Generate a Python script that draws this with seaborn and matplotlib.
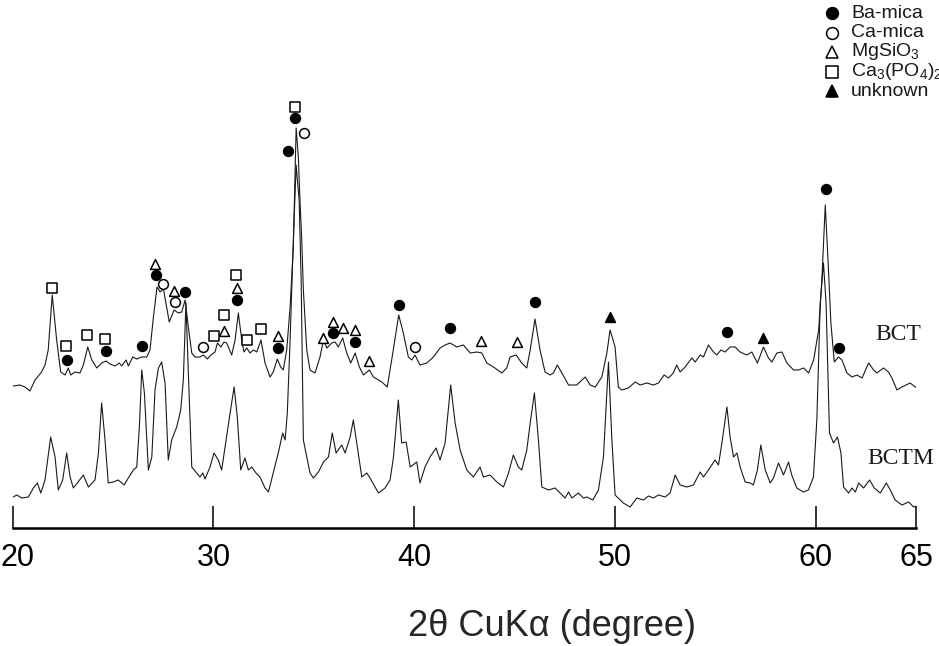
import matplotlib
matplotlib.use('Agg')
import matplotlib.pyplot as plt
from matplotlib.lines import Line2D
from matplotlib.transforms import ScaledTranslation
import seaborn as sns

# XRD patterns: 2-theta (deg) and intensity (arb. units)
bct_2theta = [20.03, 20.36, 20.61, 20.86, 21.11, 21.44, 21.61, 21.77, 21.97, 22.19,
              22.39, 22.61, 22.77, 22.89, 23.10, 23.35, 23.52, 23.74, 23.94, 24.19,
              24.43, 24.65, 24.85, 25.10, 25.31, 25.43, 25.65, 25.76, 25.98, 26.18,
              26.43, 26.68, 26.84, 27.01, 27.19, 27.34, 27.51, 27.80, 28.04, 28.25,
              28.42, 28.59, 28.75, 28.92, 29.08, 29.33, 29.50, 29.70, 29.87, 30.08,
              30.20, 30.37, 30.53, 30.66, 30.91, 31.08, 31.24, 31.41, 31.52, 31.66,
              31.82, 31.99, 32.16, 32.37, 32.57, 32.82, 32.98, 33.18, 33.35, 33.48,
              33.65, 33.82, 33.98, 34.12, 34.23, 34.31, 34.40, 34.48, 34.65, 34.81,
              35.06, 35.31, 35.48, 35.65, 35.89, 36.06, 36.22, 36.44, 36.64, 36.84,
              37.06, 37.27, 37.47, 37.77, 37.97, 38.39, 38.66, 38.96, 39.23, 39.46,
              39.71, 39.88, 40.04, 40.29, 40.63, 40.96, 41.29, 41.54, 41.79, 42.12,
              42.45, 42.79, 43.12, 43.37, 43.62, 43.95, 44.37, 44.61, 44.78, 45.08,
              45.36, 45.61, 45.78, 46.02, 46.27, 46.52, 46.77, 46.94, 47.13, 47.36,
              47.69, 48.10, 48.52, 48.77, 49.02, 49.35, 49.60, 49.76, 50.01, 50.17,
              50.34, 50.67, 51.01, 51.26, 51.59, 51.92, 52.17, 52.45, 52.67, 52.91,
              53.08, 53.25, 53.50, 53.83, 54.00, 54.25, 54.41, 54.66, 54.91, 55.08,
              55.28, 55.49, 55.74, 55.99, 56.24, 56.57, 56.82, 57.10, 57.40, 57.65,
              57.82, 58.07, 58.32, 58.57, 58.90, 59.15, 59.40, 59.65, 59.90, 60.15,
              60.31, 60.48, 60.64, 60.76, 60.93, 61.14, 61.31, 61.56, 61.81, 62.06,
              62.31, 62.64, 62.89, 63.05, 63.38, 63.63, 63.80, 64.05, 64.30, 64.71,
              64.96, 65.21]
bct_counts = [32, 33, 31, 27, 38, 46, 53, 68, 123, 78,
              46, 43, 50, 43, 46, 45, 53, 71, 58, 50,
              55, 57, 54, 52, 55, 52, 58, 52, 61, 59,
              61, 61, 68, 101, 131, 126, 129, 96, 108, 105,
              106, 118, 91, 65, 61, 61, 63, 59, 63, 66,
              75, 71, 76, 75, 63, 78, 105, 78, 66, 70,
              65, 68, 66, 78, 55, 41, 46, 59, 51, 48,
              68, 111, 171, 290, 261, 218, 178, 128, 68, 48,
              45, 61, 78, 70, 75, 76, 71, 80, 65, 55,
              65, 51, 43, 48, 41, 36, 31, 68, 103, 85,
              61, 58, 63, 53, 55, 61, 70, 73, 75, 71,
              73, 65, 66, 65, 55, 51, 45, 50, 61, 63,
              55, 50, 68, 99, 68, 46, 43, 45, 53, 45,
              33, 33, 41, 33, 31, 41, 65, 88, 71, 31,
              28, 30, 36, 33, 35, 33, 35, 43, 40, 45,
              53, 46, 51, 60, 56, 63, 61, 73, 66, 63,
              68, 66, 71, 71, 66, 63, 66, 55, 71, 60,
              56, 65, 66, 55, 48, 48, 50, 45, 58, 88,
              138, 213, 148, 95, 56, 61, 58, 45, 41, 43,
              40, 55, 48, 45, 50, 46, 40, 28, 31, 35,
              31, 30]

bctm_2theta = [20.03, 20.20, 20.45, 20.78, 21.03, 21.23, 21.40, 21.61, 21.89, 22.11,
               22.27, 22.49, 22.69, 22.86, 23.02, 23.22, 23.52, 23.77, 24.10, 24.27,
               24.43, 24.60, 24.76, 25.01, 25.26, 25.55, 25.76, 26.01, 26.18, 26.31,
               26.43, 26.56, 26.76, 26.93, 27.09, 27.26, 27.42, 27.59, 27.75, 27.92,
               28.17, 28.37, 28.50, 28.63, 28.75, 28.92, 29.17, 29.33, 29.47, 29.58,
               29.83, 30.03, 30.24, 30.41, 30.58, 30.83, 31.03, 31.19, 31.36, 31.57,
               31.74, 31.91, 32.12, 32.32, 32.57, 32.74, 32.98, 33.23, 33.45, 33.57,
               33.68, 33.82, 33.98, 34.12, 34.27, 34.37, 34.48, 34.81, 34.98, 35.23,
               35.48, 35.73, 35.92, 36.11, 36.39, 36.56, 36.81, 36.97, 37.14, 37.39,
               37.64, 37.80, 38.22, 38.55, 38.80, 38.97, 39.21, 39.38, 39.60, 39.80,
               40.13, 40.29, 40.54, 40.79, 41.09, 41.29, 41.54, 41.82, 42.04, 42.29,
               42.62, 42.95, 43.28, 43.45, 43.78, 44.12, 44.45, 44.70, 44.94, 45.19,
               45.36, 45.61, 45.78, 45.99, 46.19, 46.36, 46.69, 47.02, 47.27, 47.52,
               47.69, 47.86, 48.18, 48.43, 48.60, 48.90, 49.18, 49.43, 49.68, 49.85,
               50.01, 50.42, 50.76, 51.09, 51.42, 51.67, 51.92, 52.17, 52.50, 52.75,
               53.00, 53.25, 53.58, 53.91, 54.25, 54.41, 54.66, 54.99, 55.16, 55.33,
               55.58, 55.74, 55.91, 56.08, 56.24, 56.49, 56.74, 56.90, 57.10, 57.27,
               57.49, 57.74, 57.90, 58.15, 58.40, 58.65, 58.81, 59.06, 59.39, 59.64,
               59.89, 60.06, 60.23, 60.39, 60.52, 60.69, 60.89, 61.09, 61.26, 61.39,
               61.64, 61.81, 61.98, 62.14, 62.39, 62.69, 62.92, 63.22, 63.52, 63.72,
               63.96, 64.30, 64.63, 64.88, 65.13]
bctm_counts = [31, 33, 30, 31, 40, 45, 35, 48, 91, 71,
               38, 48, 75, 51, 40, 45, 53, 41, 48, 75,
               125, 88, 45, 46, 48, 43, 50, 58, 61, 101,
               158, 135, 58, 71, 138, 160, 166, 145, 68, 88,
               101, 118, 148, 225, 155, 61, 55, 51, 55, 49,
               61, 75, 68, 58, 81, 115, 141, 111, 58, 70,
               58, 61, 55, 51, 40, 36, 55, 75, 95, 88,
               115, 188, 288, 363, 328, 248, 88, 55, 50, 56,
               66, 71, 95, 75, 83, 75, 91, 108, 85, 51,
               55, 50, 35, 40, 48, 71, 128, 85, 86, 61,
               66, 45, 61, 71, 80, 68, 85, 143, 105, 78,
               58, 51, 61, 51, 53, 46, 41, 55, 73, 61,
               58, 78, 105, 135, 88, 41, 38, 40, 35, 30,
               36, 30, 35, 30, 31, 28, 38, 71, 166, 88,
               33, 25, 21, 30, 28, 32, 30, 33, 31, 35,
               53, 43, 41, 43, 56, 51, 58, 68, 63, 85,
               121, 91, 71, 75, 61, 46, 45, 43, 58, 83,
               58, 45, 50, 65, 53, 66, 53, 40, 36, 38,
               51, 108, 225, 265, 225, 95, 85, 91, 75, 41,
               35, 40, 36, 45, 40, 48, 40, 35, 45, 38,
               28, 23, 26, 21, 23]

# phase identification marks above the BCT pattern (2-theta, height)
ba_mica_x = [22.69, 24.63, 26.43, 27.13, 28.59, 31.19, 33.23, 33.73, 34.07, 35.97,
             37.06, 39.23, 41.79, 46.02, 55.58, 60.51, 61.14]
ba_mica_y = [58, 67, 72, 143, 126, 118, 70, 267, 300, 85,
             76, 113, 90, 116, 86, 229, 70]
ca_mica_x = [27.50, 28.09, 29.50, 34.53, 40.04]
ca_mica_y = [134, 116, 71, 285, 71]
mgsio3_x = [27.09, 28.02, 30.54, 31.16, 33.23, 35.48, 35.97, 36.44, 37.06, 37.75,
            43.33, 45.11]
mgsio3_y = [154, 127, 87, 130, 82, 80, 96, 90, 88, 57,
            77, 76]
ca3po4_x = [21.94, 22.64, 23.72, 24.60, 30.04, 30.54, 31.11, 31.67, 32.37, 34.04]
ca3po4_y = [130, 72, 83, 79, 82, 103, 143, 78, 89, 311]
unknown_x = [49.76, 57.40]
unknown_y = [101, 80]

tick_values = [20, 30, 40, 50, 60, 65]
bct_offset = 110

sns.set_theme(style='white')
plt.rcParams['font.family'] = ['Liberation Sans', 'DejaVu Sans']
plt.rcParams['mathtext.fontset'] = 'custom'
plt.rcParams['mathtext.rm'] = 'Liberation Sans'

fig = plt.figure(figsize=(9.39, 6.46), dpi=100)
ax = fig.add_axes([12.7 / 939, 118 / 646, 903.3 / 939, 528 / 646])

bct_shifted = [c + bct_offset for c in bct_counts]
sns.lineplot(x=bct_2theta, y=bct_shifted, ax=ax, color='#1a1a1a', lw=0.8,
             estimator=None, sort=False)
sns.lineplot(x=bctm_2theta, y=bctm_counts, ax=ax, color='#1a1a1a', lw=0.8,
             estimator=None, sort=False)

phases = [
    (ba_mica_x, ba_mica_y, 'o', 'black', 'Ba-mica'),
    (ca_mica_x, ca_mica_y, 'o', 'white', 'Ca-mica'),
    (mgsio3_x, mgsio3_y, '^', 'white', 'MgSiO$_3$'),
    (ca3po4_x, ca3po4_y, 's', 'white', 'Ca$_3$(PO$_4$)$_2$'),
    (unknown_x, unknown_y, '^', 'black', 'unknown'),
]
for xs, ys, mk, fc, name in phases:
    sns.scatterplot(x=xs, y=[y + bct_offset for y in ys], ax=ax, marker=mk,
                    s=50, color=fc, edgecolor='black', linewidth=1.1, zorder=5)

ax.text(65.26, 194, 'BCT', family='Liberation Serif', fontsize=17,
        ha='right', va='center', color='#1a1a1a')
ax.text(65.91, 70, 'BCTM', family='Liberation Serif', fontsize=17,
        ha='right', va='center', color='#1a1a1a')

ax.set_xlim(20, 65)
ax.set_ylim(0, 528)
ax.set_xticks(tick_values)
ax.set_xticklabels([str(t) for t in tick_values])
ax.set_yticks([])
for side in ['top', 'left', 'right']:
    ax.spines[side].set_visible(False)
ax.spines['bottom'].set_linewidth(1.8)
ax.spines['bottom'].set_color('black')
ax.tick_params(axis='x', direction='in', length=16, width=1.1, pad=11,
               labelsize=22, colors='black', bottom=True)
# first label sits right of its tick so it stays on the page
first = ax.get_xticklabels()[0]
first.set_transform(first.get_transform() + ScaledTranslation(5 / 100, 0, fig.dpi_scale_trans))

ax.set_xlabel('2\u03b8 CuK\u03b1 (degree)', fontsize=26)
ax.xaxis.set_label_coords((552 - 12.7) / 903.3, -98 / 528)
ax.xaxis.label.set_va('center')
ax.patch.set_alpha(0)

# legend in the top right corner, partly cut by the page edge as in the scan
row_y = [13, 32.5, 52, 71.5, 91]
for (_, _, mk, fc, name), py in zip(phases, row_y):
    fig.add_artist(Line2D([832 / 939], [1 - py / 646], transform=fig.transFigure,
                          ls='none', marker=mk, markersize=8.5, markerfacecolor=fc,
                          markeredgecolor='black', markeredgewidth=1.1))
    fig.text(851 / 939, 1 - py / 646, name, fontsize=14, ha='left', va='center',
             color='#1a1a1a')

fig.savefig('out.png', dpi=100)
